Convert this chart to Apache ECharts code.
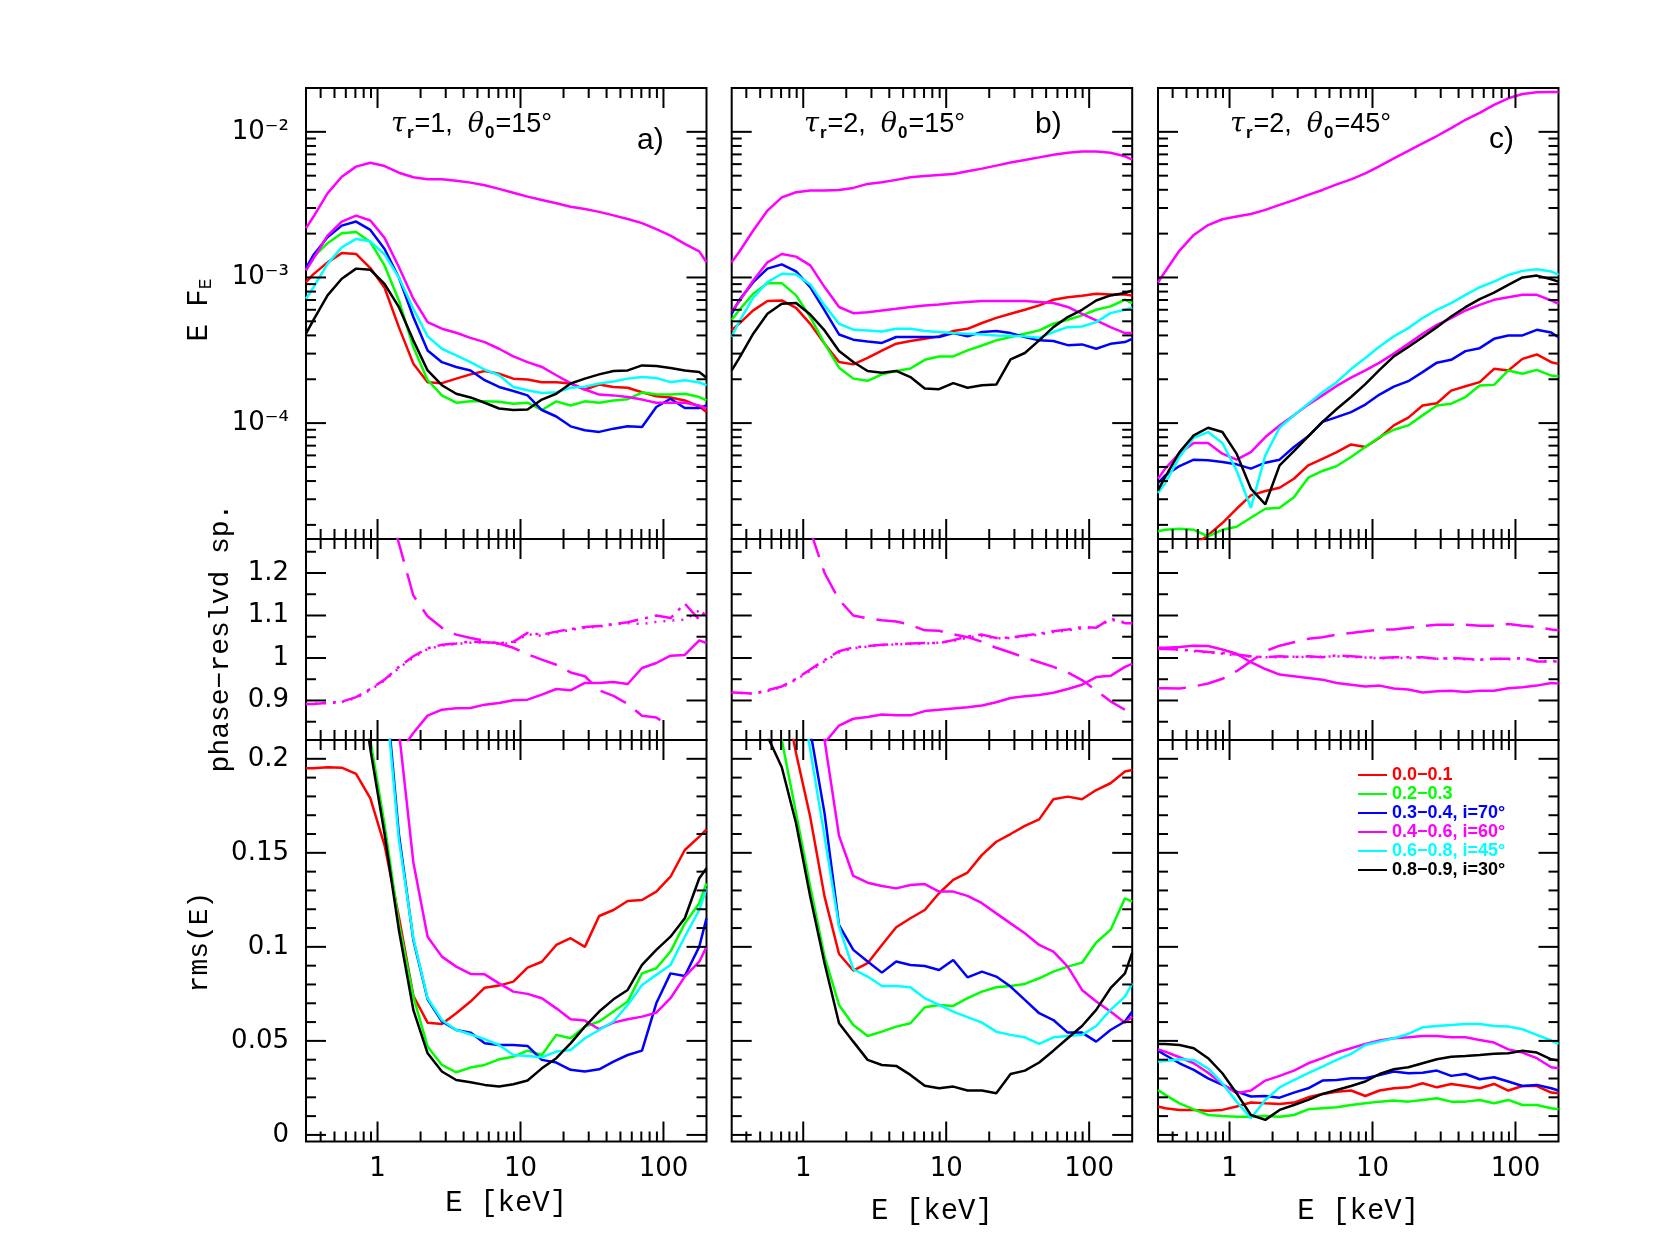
<!DOCTYPE html>
<html><head><meta charset="utf-8">
<script src="https://cdn.jsdelivr.net/npm/echarts@6/dist/echarts.min.js"></script>
<style>html,body{margin:0;padding:0;background:#fff}#c{width:1661px;height:1260px}</style>
</head><body><div id="c"></div>
<script>
// ---------------- data ----------------
// photon energy grid (keV); first and last entries sit at the plot edges
var energy = [0.316, 0.355, 0.447, 0.562, 0.708, 0.891, 1.12, 1.41, 1.78, 2.24, 2.82, 3.55, 4.47, 5.62, 7.08, 8.91, 11.2, 14.1, 17.8, 22.4, 28.2, 35.5, 44.7, 56.2, 70.8, 89.1, 112, 141, 178, 200];

var phaseNames = ['0.0\u22120.1', '0.2\u22120.3', '0.3\u22120.4, i=70\u00b0', '0.4\u22120.6, i=60\u00b0', '0.6\u22120.8, i=45\u00b0', '0.8\u22120.9, i=30\u00b0'];
var phaseColors = ['#ff0000', '#00ff00', '#0000ff', '#ff00ff', '#00ffff', '#000000'];
var panelTitles = ['a)', 'b)', 'c)'];
var panelParams = [['r', '1', '0', '15'], ['r', '2', '0', '15'], ['r', '2', '0', '45']];

// tick values / labels
var xTickLabels = [1, 10, 100];
var xMinorTicks = [0.4, 0.5, 0.6, 0.7, 0.8, 0.9, 2, 3, 4, 5, 6, 7, 8, 9, 20, 30, 40, 50, 60, 70, 80, 90];
var efeTickLabels = [1e-4, 1e-3, 1e-2];
var efeMinorTicks = [2e-5, 3e-5, 4e-5, 5e-5, 6e-5, 7e-5, 8e-5, 9e-5, 2e-4, 3e-4, 4e-4, 5e-4, 6e-4, 7e-4, 8e-4, 9e-4, 2e-3, 3e-3, 4e-3, 5e-3, 6e-3, 7e-3, 8e-3, 9e-3];
var ratioTickLabels = [0.9, 1, 1.1, 1.2];
var ratioMinorTicks = [0.85, 0.95, 1.05, 1.15, 1.25];
var rmsTickLabels = [0, 0.05, 0.1, 0.15, 0.2];
var rmsMinorTicks = [0.01, 0.02, 0.03, 0.04, 0.06, 0.07, 0.08, 0.09, 0.11, 0.12, 0.13, 0.14, 0.16, 0.17, 0.18, 0.19];

// ---- E F_E, panel a ----
var efeA_total = [2.18e-3, 2.6e-3, 3.78e-3, 4.92e-3, 5.77e-3, 6.14e-3, 5.82e-3, 5.24e-3, 4.88e-3, 4.72e-3, 4.72e-3, 4.62e-3, 4.48e-3, 4.30e-3, 4.06e-3, 3.82e-3, 3.59e-3, 3.40e-3, 3.23e-3, 3.06e-3, 2.95e-3, 2.82e-3, 2.67e-3, 2.52e-3, 2.36e-3, 2.15e-3, 1.94e-3, 1.70e-3, 1.51e-3, 1.27e-3];
var efeA_red = [9.3e-4, 1.05e-3, 1.27e-3, 1.47e-3, 1.45e-3, 1.16e-3, 8.5e-4, 4.56e-4, 2.56e-4, 1.91e-4, 1.88e-4, 2.02e-4, 2.16e-4, 2.28e-4, 2.18e-4, 2.02e-4, 1.99e-4, 1.91e-4, 1.91e-4, 1.87e-4, 1.70e-4, 1.84e-4, 1.77e-4, 1.75e-4, 1.63e-4, 1.53e-4, 1.50e-4, 1.43e-4, 1.30e-4, 1.19e-4];
var efeA_green = [1.12e-3, 1.38e-3, 1.72e-3, 2.01e-3, 2.05e-3, 1.75e-3, 1.21e-3, 6.95e-4, 3.33e-4, 1.97e-4, 1.55e-4, 1.38e-4, 1.41e-4, 1.41e-4, 1.40e-4, 1.36e-4, 1.38e-4, 1.23e-4, 1.41e-4, 1.32e-4, 1.41e-4, 1.38e-4, 1.43e-4, 1.46e-4, 1.62e-4, 1.58e-4, 1.57e-4, 1.59e-4, 1.51e-4, 1.43e-4];
var efeA_blue = [1.16e-3, 1.42e-3, 1.89e-3, 2.27e-3, 2.42e-3, 2.12e-3, 1.57e-3, 1.0e-3, 5.35e-4, 3.15e-4, 2.62e-4, 2.43e-4, 2.30e-4, 1.97e-4, 1.77e-4, 1.66e-4, 1.55e-4, 1.23e-4, 1.11e-4, 9.5e-5, 8.93e-5, 8.7e-5, 9.16e-5, 9.5e-5, 9.4e-5, 1.29e-4, 1.47e-4, 1.27e-4, 1.27e-4, 1.32e-4];
var efeA_mag = [1.12e-3, 1.34e-3, 1.94e-3, 2.42e-3, 2.66e-3, 2.46e-3, 1.87e-3, 1.18e-3, 7.14e-4, 4.94e-4, 4.45e-4, 4.17e-4, 3.85e-4, 3.60e-4, 3.24e-4, 2.87e-4, 2.62e-4, 2.43e-4, 2.13e-4, 1.88e-4, 1.70e-4, 1.57e-4, 1.55e-4, 1.51e-4, 1.45e-4, 1.38e-4, 1.38e-4, 1.38e-4, 1.32e-4, 1.26e-4];
var efeA_cyan = [7.14e-4, 8.5e-4, 1.24e-3, 1.61e-3, 1.84e-3, 1.77e-3, 1.44e-3, 1.0e-3, 6.1e-4, 3.94e-4, 3.24e-4, 2.92e-4, 2.62e-4, 2.33e-4, 2.13e-4, 1.77e-4, 1.68e-4, 1.61e-4, 1.63e-4, 1.75e-4, 1.78e-4, 1.87e-4, 1.93e-4, 2.02e-4, 2.07e-4, 2.04e-4, 1.91e-4, 1.97e-4, 1.90e-4, 1.82e-4];
var efeA_black = [4.11e-4, 5.07e-4, 7.53e-4, 9.8e-4, 1.15e-3, 1.13e-3, 9.05e-4, 6.26e-4, 3.70e-4, 2.30e-4, 1.82e-4, 1.59e-4, 1.50e-4, 1.38e-4, 1.26e-4, 1.23e-4, 1.24e-4, 1.45e-4, 1.59e-4, 1.87e-4, 2.02e-4, 2.16e-4, 2.28e-4, 2.30e-4, 2.49e-4, 2.47e-4, 2.39e-4, 2.30e-4, 2.24e-4, 2.05e-4];

// ---- E F_E, panel b ----
var efeB_total = [1.27e-3, 1.49e-3, 2.10e-3, 2.88e-3, 3.55e-3, 3.85e-3, 3.95e-3, 3.95e-3, 3.99e-3, 4.12e-3, 4.39e-3, 4.51e-3, 4.68e-3, 4.88e-3, 4.98e-3, 5.06e-3, 5.14e-3, 5.36e-3, 5.59e-3, 5.86e-3, 6.15e-3, 6.41e-3, 6.68e-3, 6.97e-3, 7.19e-3, 7.34e-3, 7.34e-3, 7.19e-3, 6.79e-3, 6.44e-3];
var efeB_red = [4.34e-4, 4.8e-4, 5.94e-4, 6.89e-4, 6.95e-4, 6.19e-4, 4.8e-4, 3.51e-4, 2.63e-4, 2.53e-4, 2.80e-4, 3.15e-4, 3.51e-4, 3.66e-4, 3.79e-4, 3.94e-4, 4.29e-4, 4.44e-4, 4.87e-4, 5.28e-4, 5.63e-4, 6.0e-4, 6.43e-4, 7.03e-4, 7.32e-4, 7.48e-4, 7.73e-4, 7.65e-4, 7.65e-4, 7.53e-4];
var efeB_green = [5.13e-4, 5.94e-4, 7.73e-4, 9.14e-4, 9.14e-4, 7.53e-4, 5.35e-4, 3.51e-4, 2.40e-4, 2.02e-4, 1.95e-4, 2.16e-4, 2.28e-4, 2.37e-4, 2.72e-4, 2.87e-4, 2.87e-4, 3.16e-4, 3.41e-4, 3.70e-4, 3.90e-4, 4.11e-4, 4.33e-4, 4.81e-4, 5.13e-4, 5.49e-4, 6.0e-4, 6.33e-4, 7.03e-4, 6.67e-4];
var efeB_blue = [5.63e-4, 6.95e-4, 9.29e-4, 1.15e-3, 1.23e-3, 1.10e-3, 8.59e-4, 5.94e-4, 4.06e-4, 3.74e-4, 3.64e-4, 3.55e-4, 3.90e-4, 3.90e-4, 3.90e-4, 3.90e-4, 4.15e-4, 3.94e-4, 4.22e-4, 4.29e-4, 4.15e-4, 3.90e-4, 3.70e-4, 3.66e-4, 3.43e-4, 3.47e-4, 3.24e-4, 3.50e-4, 3.60e-4, 3.79e-4];
var efeB_mag = [5.88e-4, 6.78e-4, 9.53e-4, 1.27e-3, 1.45e-3, 1.39e-3, 1.21e-3, 8.59e-4, 6.27e-4, 5.69e-4, 5.78e-4, 5.94e-4, 6.10e-4, 6.27e-4, 6.43e-4, 6.53e-4, 6.67e-4, 6.78e-4, 6.89e-4, 6.89e-4, 6.89e-4, 6.89e-4, 6.78e-4, 6.67e-4, 6.27e-4, 5.63e-4, 5.07e-4, 4.56e-4, 4.15e-4, 4.15e-4];
var efeB_cyan = [3.90e-4, 4.94e-4, 7.26e-4, 9.29e-4, 1.06e-3, 1.05e-3, 8.96e-4, 6.43e-4, 4.81e-4, 4.38e-4, 4.33e-4, 4.26e-4, 4.44e-4, 4.44e-4, 4.29e-4, 4.22e-4, 4.15e-4, 4.11e-4, 4.06e-4, 4.0e-4, 3.98e-4, 3.94e-4, 3.85e-4, 4.22e-4, 4.56e-4, 4.61e-4, 4.94e-4, 5.69e-4, 6.0e-4, 6.19e-4];
var efeB_black = [2.30e-4, 2.77e-4, 4.11e-4, 5.63e-4, 6.6e-4, 6.67e-4, 5.57e-4, 4.33e-4, 3.13e-4, 2.63e-4, 2.28e-4, 2.22e-4, 2.28e-4, 2.07e-4, 1.73e-4, 1.71e-4, 1.88e-4, 1.75e-4, 1.82e-4, 1.84e-4, 2.74e-4, 3.03e-4, 3.70e-4, 4.56e-4, 5.35e-4, 6.0e-4, 6.95e-4, 7.53e-4, 7.81e-4, 8.15e-4];

// ---- E F_E, panel c ----
var efeC_total = [9.23e-4, 1.10e-3, 1.53e-3, 1.96e-3, 2.29e-3, 2.51e-3, 2.62e-3, 2.73e-3, 2.91e-3, 3.15e-3, 3.40e-3, 3.69e-3, 3.99e-3, 4.36e-3, 4.72e-3, 5.19e-3, 5.82e-3, 6.58e-3, 7.41e-3, 8.34e-3, 9.36e-3, 1.06e-2, 1.21e-2, 1.35e-2, 1.53e-2, 1.70e-2, 1.82e-2, 1.87e-2, 1.88e-2, 1.88e-2];
var efeC_red = [0.95e-5, 1.0e-5, 1.2e-5, 1.45e-5, 1.7e-5, 2.06e-5, 2.58e-5, 3.19e-5, 3.42e-5, 3.60e-5, 4.15e-5, 5.12e-5, 5.69e-5, 6.32e-5, 7.14e-5, 6.85e-5, 7.93e-5, 9.64e-5, 1.09e-4, 1.32e-4, 1.37e-4, 1.67e-4, 1.79e-4, 1.91e-4, 2.36e-4, 2.30e-4, 2.76e-4, 2.96e-4, 2.62e-4, 2.55e-4];
var efeC_green = [1.81e-5, 1.85e-5, 1.88e-5, 1.85e-5, 1.67e-5, 1.85e-5, 1.94e-5, 2.24e-5, 2.58e-5, 2.62e-5, 3.10e-5, 4.22e-5, 4.69e-5, 5.07e-5, 5.85e-5, 6.85e-5, 8.02e-5, 9.0e-5, 9.64e-5, 1.13e-4, 1.32e-4, 1.36e-4, 1.51e-4, 1.81e-4, 1.83e-4, 2.30e-4, 2.18e-4, 2.32e-4, 2.12e-4, 2.09e-4];
var efeC_blue = [3.87e-5, 4.37e-5, 5.07e-5, 5.61e-5, 5.55e-5, 5.41e-5, 5.21e-5, 4.87e-5, 5.35e-5, 5.61e-5, 6.85e-5, 8.11e-5, 1.02e-4, 1.10e-4, 1.19e-4, 1.34e-4, 1.57e-4, 1.78e-4, 1.94e-4, 2.24e-4, 2.60e-4, 2.72e-4, 3.12e-4, 3.27e-4, 3.79e-4, 3.99e-4, 4.0e-4, 4.37e-4, 4.19e-4, 3.89e-4];
var efeC_mag = [4.15e-5, 4.87e-5, 6.22e-5, 7.3e-5, 7.3e-5, 6.17e-5, 5.61e-5, 6.32e-5, 8.02e-5, 9.64e-5, 1.13e-4, 1.34e-4, 1.55e-4, 1.8e-4, 2.05e-4, 2.3e-4, 2.6e-4, 3.0e-4, 3.5e-4, 4.1e-4, 4.73e-4, 5.26e-4, 5.93e-4, 6.49e-4, 7.02e-4, 7.32e-4, 7.6e-4, 7.6e-4, 6.95e-4, 6.6e-4];
var efeC_cyan = [3.31e-5, 3.87e-5, 5.85e-5, 7.93e-5, 8.68e-5, 7.3e-5, 4.73e-5, 2.62e-5, 6.0e-5, 9.29e-5, 1.13e-4, 1.36e-4, 1.63e-4, 1.91e-4, 2.35e-4, 2.8e-4, 3.36e-4, 3.94e-4, 4.49e-4, 5.26e-4, 6.0e-4, 6.67e-4, 7.6e-4, 8.57e-4, 9.37e-4, 1.04e-3, 1.11e-3, 1.14e-3, 1.10e-3, 1.04e-3];
var efeC_black = [3.45e-5, 4.27e-5, 6.32e-5, 8.23e-5, 9.29e-5, 8.68e-5, 6.17e-5, 3.55e-5, 2.77e-5, 5.13e-5, 6.43e-5, 8.11e-5, 1.02e-4, 1.25e-4, 1.51e-4, 1.85e-4, 2.32e-4, 2.87e-4, 3.33e-4, 3.89e-4, 4.56e-4, 5.39e-4, 6.25e-4, 7.1e-4, 7.87e-4, 8.89e-4, 1.0e-3, 1.03e-3, 9.73e-4, 9.37e-4];

// ---- phase-resolved spectra ratios (magenta; solid, dashed, dash-dot, dotted) ----
var ratioA_solid = [null, null, null, null, null, null, 0.72, 0.775, 0.8235, 0.8643, 0.8784, 0.8816, 0.8824, 0.8902, 0.8941, 0.9004, 0.902, 0.9137, 0.9271, 0.9239, 0.9412, 0.9412, 0.9435, 0.9388, 0.9765, 0.9882, 1.0055, 1.0071, 1.0416, 1.0353];
var ratioA_dashed = [null, null, null, null, null, null, 1.38, 1.27, 1.147, 1.098, 1.071, 1.055, 1.047, 1.041, 1.034, 1.024, 1.009, 0.996, 0.984, 0.966, 0.957, 0.924, 0.911, 0.892, 0.864, 0.860, 0.838, null, null, null];
var ratioA_dashdot = [0.892, 0.892, 0.894, 0.897, 0.908, 0.927, 0.949, 0.979, 1.004, 1.023, 1.031, 1.034, 1.039, 1.037, 1.035, 1.038, 1.059, 1.055, 1.062, 1.068, 1.073, 1.075, 1.080, 1.084, 1.092, 1.100, 1.094, 1.128, 1.090, 1.115];
var ratioA_dotted = [0.892, 0.892, 0.894, 0.896, 0.906, 0.925, 0.947, 0.976, 1.001, 1.021, 1.029, 1.033, 1.036, 1.037, 1.033, 1.035, 1.056, 1.052, 1.060, 1.066, 1.071, 1.074, 1.079, 1.082, 1.080, 1.085, 1.088, 1.090, 1.112, 1.100];
var ratioB_solid = [null, null, null, null, null, null, 0.70, 0.80, 0.841, 0.857, 0.861, 0.867, 0.865, 0.865, 0.875, 0.878, 0.881, 0.884, 0.888, 0.896, 0.906, 0.910, 0.913, 0.918, 0.927, 0.937, 0.955, 0.958, 0.979, 0.986];
var ratioB_dashed = [null, null, null, null, null, null, 1.30, 1.20, 1.137, 1.100, 1.093, 1.089, 1.086, 1.078, 1.065, 1.064, 1.056, 1.049, 1.038, 1.024, 1.013, 1.001, 0.990, 0.979, 0.966, 0.948, 0.924, 0.898, 0.878, 0.869];
var ratioB_dashdot = [0.919, 0.918, 0.916, 0.924, 0.933, 0.951, 0.973, 0.995, 1.016, 1.025, 1.028, 1.031, 1.033, 1.034, 1.035, 1.035, 1.042, 1.051, 1.055, 1.047, 1.048, 1.053, 1.057, 1.063, 1.067, 1.073, 1.071, 1.093, 1.082, 1.082];
var ratioB_dotted = [0.919, 0.918, 0.916, 0.922, 0.931, 0.949, 0.970, 0.992, 1.013, 1.023, 1.027, 1.030, 1.032, 1.033, 1.034, 1.036, 1.040, 1.048, 1.052, 1.046, 1.047, 1.051, 1.055, 1.061, 1.065, 1.070, 1.072, 1.090, 1.084, 1.082];
var ratioC_solid = [1.024, 1.024, 1.026, 1.029, 1.028, 1.020, 1.010, 0.990, 0.974, 0.961, 0.957, 0.953, 0.949, 0.941, 0.937, 0.933, 0.935, 0.928, 0.926, 0.919, 0.922, 0.923, 0.920, 0.923, 0.923, 0.929, 0.931, 0.935, 0.941, 0.940];
var ratioC_dashed = [0.929, 0.929, 0.928, 0.933, 0.940, 0.951, 0.969, 0.992, 1.016, 1.029, 1.037, 1.045, 1.049, 1.055, 1.059, 1.063, 1.067, 1.067, 1.071, 1.075, 1.078, 1.078, 1.078, 1.076, 1.076, 1.080, 1.076, 1.073, 1.067, 1.065];
var ratioC_dashdot = [1.021, 1.021, 1.020, 1.017, 1.014, 1.012, 1.008, 1.004, 1.002, 1.004, 1.002, 1.004, 1.002, 1.006, 1.004, 1.002, 1.000, 1.002, 1.002, 1.002, 0.998, 1.000, 0.998, 0.996, 0.998, 0.998, 1.000, 0.992, 0.992, 0.992];
var ratioC_dotted = [1.023, 1.022, 1.020, 1.016, 1.013, 1.010, 1.006, 1.003, 1.002, 1.002, 1.003, 1.002, 1.003, 1.004, 1.002, 1.001, 0.999, 1.000, 1.000, 1.001, 0.998, 0.999, 0.997, 0.996, 0.998, 0.997, 0.999, 0.993, 0.993, 0.993];

// ---- rms(E) ----
var rmsA_red = [0.195, 0.195, 0.1955, 0.1953, 0.192, 0.179, 0.154, 0.116, 0.074, 0.0597, 0.059, 0.0647, 0.0709, 0.0783, 0.0794, 0.0815, 0.089, 0.0921, 0.101, 0.1046, 0.100, 0.1164, 0.1196, 0.1244, 0.1249, 0.1294, 0.1373, 0.1515, 0.1586, 0.1625];
var rmsA_green = [null, null, null, null, 0.27, 0.21, 0.165, 0.1125, 0.0735, 0.047, 0.0372, 0.0333, 0.0358, 0.0372, 0.0402, 0.0416, 0.0448, 0.0425, 0.0532, 0.0514, 0.0576, 0.0603, 0.0656, 0.0709, 0.0859, 0.0886, 0.0975, 0.1125, 0.1232, 0.1338];
var rmsA_blue = [null, null, null, null, null, null, 0.245, 0.16, 0.1037, 0.0721, 0.0603, 0.0558, 0.0544, 0.0487, 0.0478, 0.0478, 0.0473, 0.0399, 0.0385, 0.0346, 0.0337, 0.0349, 0.039, 0.0425, 0.0448, 0.070, 0.0859, 0.0845, 0.1001, 0.1152];
var rmsA_mag = [null, null, null, null, null, null, 0.30, 0.215, 0.145, 0.1054, 0.0948, 0.0895, 0.0856, 0.0854, 0.0806, 0.0762, 0.075, 0.0727, 0.0673, 0.0615, 0.0608, 0.0562, 0.0597, 0.0615, 0.0629, 0.065, 0.0727, 0.0842, 0.0921, 0.1001];
var rmsA_cyan = [null, null, null, null, null, null, 0.24, 0.157, 0.1045, 0.0727, 0.0611, 0.0558, 0.0535, 0.0509, 0.0478, 0.0425, 0.042, 0.0413, 0.0443, 0.0452, 0.0514, 0.0558, 0.0603, 0.0691, 0.0797, 0.0851, 0.0904, 0.1054, 0.1196, 0.1311];
var rmsA_black = [null, null, null, null, 0.26, 0.205, 0.16, 0.109, 0.0665, 0.0434, 0.0337, 0.0292, 0.028, 0.0266, 0.0257, 0.0269, 0.0289, 0.0354, 0.0408, 0.0487, 0.0576, 0.0656, 0.0721, 0.0771, 0.0904, 0.0984, 0.1054, 0.1152, 0.1365, 0.1418];

var rmsB_red = [null, null, null, 0.28, 0.242, 0.203, 0.169, 0.1267, 0.0962, 0.0874, 0.0913, 0.101, 0.1104, 0.1152, 0.1196, 0.1285, 0.1356, 0.1395, 0.1489, 0.1559, 0.160, 0.1643, 0.1678, 0.1785, 0.1799, 0.1785, 0.1834, 0.187, 0.1932, 0.194];
var rmsB_green = [null, null, null, 0.25, 0.21, 0.171, 0.132, 0.0948, 0.0691, 0.0585, 0.0526, 0.0549, 0.0576, 0.0594, 0.0679, 0.0691, 0.0686, 0.0727, 0.0762, 0.0785, 0.0792, 0.0803, 0.0833, 0.0868, 0.0895, 0.0916, 0.1023, 0.109, 0.1258, 0.124];
var rmsB_blue = [null, null, null, null, null, 0.26, 0.215, 0.171, 0.1116, 0.0984, 0.0922, 0.0863, 0.0922, 0.0904, 0.0898, 0.0877, 0.093, 0.0838, 0.0868, 0.0842, 0.0789, 0.0718, 0.0647, 0.0611, 0.0544, 0.0544, 0.0496, 0.0558, 0.0603, 0.0656];
var rmsB_mag = [null, null, null, null, null, null, 0.28, 0.21, 0.159, 0.1377, 0.1341, 0.1324, 0.1311, 0.1329, 0.1334, 0.1294, 0.1294, 0.1271, 0.1232, 0.1178, 0.1125, 0.1072, 0.101, 0.0975, 0.0895, 0.0771, 0.0709, 0.0656, 0.0597, 0.0629];
var rmsB_cyan = [null, null, null, null, null, 0.25, 0.2047, 0.1586, 0.1108, 0.0881, 0.0842, 0.0792, 0.0792, 0.0785, 0.0727, 0.0691, 0.0656, 0.0626, 0.0597, 0.0549, 0.0532, 0.0519, 0.0484, 0.0519, 0.0526, 0.0532, 0.0579, 0.0665, 0.0735, 0.0806];
var rmsB_black = [null, null, 0.25, 0.212, 0.1955, 0.1657, 0.1267, 0.0913, 0.0594, 0.0496, 0.0399, 0.0372, 0.0367, 0.0319, 0.0261, 0.0248, 0.0257, 0.0236, 0.0236, 0.0222, 0.0324, 0.0342, 0.0385, 0.0448, 0.0514, 0.0579, 0.0665, 0.078, 0.0859, 0.0969];

var rmsC_red = [0.0151, 0.0142, 0.0133, 0.0133, 0.0128, 0.0133, 0.0151, 0.0172, 0.0168, 0.0165, 0.0172, 0.020, 0.0218, 0.023, 0.0236, 0.0207, 0.0236, 0.0248, 0.0253, 0.0275, 0.0253, 0.0271, 0.026, 0.0248, 0.0271, 0.0236, 0.026, 0.026, 0.0225, 0.0222];
var rmsC_green = [0.0239, 0.0213, 0.0168, 0.0136, 0.0106, 0.0101, 0.0097, 0.0097, 0.0101, 0.0097, 0.0106, 0.0136, 0.0142, 0.0147, 0.0159, 0.0168, 0.0177, 0.0183, 0.0177, 0.0186, 0.0195, 0.0177, 0.0177, 0.0186, 0.0168, 0.0186, 0.0159, 0.0159, 0.0142, 0.0136];
var rmsC_blue = [0.0448, 0.0425, 0.0381, 0.0346, 0.0301, 0.0266, 0.023, 0.0204, 0.0207, 0.0198, 0.0225, 0.0248, 0.0289, 0.0292, 0.0301, 0.0301, 0.0319, 0.0337, 0.0328, 0.0331, 0.0342, 0.0314, 0.0324, 0.0296, 0.0307, 0.0284, 0.026, 0.0266, 0.0248, 0.0236];
var rmsC_mag = [0.0455, 0.0443, 0.0413, 0.0381, 0.0331, 0.0271, 0.0222, 0.0236, 0.0289, 0.0314, 0.0342, 0.0381, 0.0408, 0.0438, 0.0461, 0.0484, 0.0502, 0.0514, 0.0519, 0.0526, 0.0526, 0.0519, 0.0519, 0.0505, 0.0491, 0.0455, 0.0438, 0.0408, 0.036, 0.0354];
var rmsC_cyan = [0.039, 0.0393, 0.0402, 0.0399, 0.0354, 0.0275, 0.0177, 0.0089, 0.0186, 0.0253, 0.0292, 0.0328, 0.0363, 0.0399, 0.0431, 0.0478, 0.0496, 0.0514, 0.0537, 0.0572, 0.0579, 0.0585, 0.059, 0.059, 0.0579, 0.0576, 0.0562, 0.0532, 0.0502, 0.0484];
var rmsC_black = [0.0484, 0.0484, 0.0478, 0.0461, 0.0408, 0.0328, 0.0222, 0.0106, 0.008, 0.0133, 0.0159, 0.0186, 0.0218, 0.0239, 0.026, 0.0284, 0.0324, 0.0349, 0.036, 0.0381, 0.0402, 0.0416, 0.042, 0.0425, 0.0431, 0.0434, 0.0448, 0.0438, 0.0402, 0.0395];

// ---------------- layout ----------------
var colLeft = [306, 731.7, 1158];
var colWidth = 400.5;
var rowTop = [88, 539, 740];
var rowHeight = [451, 201, 401.5];
var X_MIN = 0.316, X_MAX = 200;
var yRange = [[1.6e-5, 0.02], [0.807, 1.28], [-0.0035, 0.21]];
var TICK_MAJOR = 20, TICK_MINOR = 10;
var NUM_FONT = 'DejaVu Sans';
var TITLE_FONT = 'Liberation Mono';

function pairs(vals) {
  var out = [];
  for (var i = 0; i < energy.length; i++) if (vals[i] !== null && vals[i] !== undefined) out.push([energy[i], vals[i]]);
  return out;
}
var SUP = {'-': '\u207b', '0': '\u2070', '1': '\u00b9', '2': '\u00b2', '3': '\u00b3', '4': '\u2074', '5': '\u2075', '6': '\u2076', '7': '\u2077', '8': '\u2078', '9': '\u2079'};
function matchTick(v, list) {
  for (var i = 0; i < list.length; i++) if (Math.abs(v - list[i]) < 1e-9 * Math.max(1, Math.abs(list[i])) + 1e-12) return i;
  return -1;
}
function fmtX(v) { var i = matchTick(v, xTickLabels); return i < 0 ? '' : String(xTickLabels[i]); }
function fmtEfe(v) {
  for (var i = 0; i < efeTickLabels.length; i++) {
    if (Math.abs(v / efeTickLabels[i] - 1) < 1e-6) {
      var e = String(Math.round(Math.log10(efeTickLabels[i])));
      return '10' + e.split('').map(function (c) { return SUP[c]; }).join('');
    }
  }
  return '';
}
function fmtRatio(v) { var i = matchTick(v, ratioTickLabels); return i < 0 ? '' : String(ratioTickLabels[i]); }
function fmtRms(v) { var i = matchTick(v, rmsTickLabels); return i < 0 ? '' : String(rmsTickLabels[i]); }

var grids = [], xAxes = [], yAxes = [], series = [];
var yMajorLists = [efeTickLabels, ratioTickLabels, rmsTickLabels];
var yMinorLists = [efeMinorTicks, ratioMinorTicks, rmsMinorTicks];
var yFormatters = [fmtEfe, fmtRatio, fmtRms];

function renderTick(params, api) {
  var cs = params.coordSys;
  var kind = api.value(2);
  var p = api.coord([api.value(0), api.value(1)]);
  var len = (kind === 0 || kind === 2) ? TICK_MAJOR : TICK_MINOR;
  var st = {stroke: '#000', lineWidth: 2};
  var kids;
  if (kind < 2) {
    kids = [
      {type: 'line', shape: {x1: p[0], y1: cs.y + cs.height, x2: p[0], y2: cs.y + cs.height - len}, style: st},
      {type: 'line', shape: {x1: p[0], y1: cs.y, x2: p[0], y2: cs.y + len}, style: st}];
  } else {
    kids = [
      {type: 'line', shape: {x1: cs.x, y1: p[1], x2: cs.x + len, y2: p[1]}, style: st},
      {type: 'line', shape: {x1: cs.x + cs.width, y1: p[1], x2: cs.x + cs.width - len, y2: p[1]}, style: st}];
  }
  return {type: 'group', children: kids};
}

for (var r = 0; r < 3; r++) {
  for (var c = 0; c < 3; c++) {
    var g = r * 3 + c;
    grids.push({left: colLeft[c], top: rowTop[r], width: colWidth, height: rowHeight[r], show: true,
      borderColor: '#000', borderWidth: 2, backgroundColor: 'rgba(0,0,0,0)', containLabel: false, outerBoundsMode: 'none'});
    xAxes.push({gridIndex: g, type: 'log', logBase: 10, min: X_MIN, max: X_MAX,
      axisLine: {show: false}, axisTick: {show: false}, splitLine: {show: false}, minorTick: {show: false},
      axisLabel: {show: r === 2, formatter: fmtX, margin: 15, fontFamily: NUM_FONT, fontSize: 26, color: '#000'},
      name: r === 2 ? 'E [keV]' : '', nameLocation: 'middle', nameGap: c === 0 ? 47 : 55, nameMoveOverlap: false,
      nameTextStyle: {fontFamily: TITLE_FONT, fontSize: 29, color: '#000'}});
    yAxes.push({gridIndex: g, type: r === 0 ? 'log' : 'value', logBase: 10, min: yRange[r][0], max: yRange[r][1],
      axisLine: {show: false}, axisTick: {show: false}, splitLine: {show: false}, minorTick: {show: false},
      axisLabel: {show: c === 0, formatter: yFormatters[r], margin: 17, fontFamily: NUM_FONT, fontSize: 26, color: '#000'}});
    // ticks on all four sides, placed through the axes' own scales
    var td = [];
    xTickLabels.forEach(function (v) { td.push([v, yRange[r][0], 0]); });
    xMinorTicks.forEach(function (v) { td.push([v, yRange[r][0], 1]); });
    yMajorLists[r].forEach(function (v) { td.push([X_MIN, v, 2]); });
    yMinorLists[r].forEach(function (v) { td.push([X_MIN, v, 3]); });
    series.push({type: 'custom', name: 'ticks' + g, xAxisIndex: g, yAxisIndex: g, data: td, silent: true,
      animation: false, clip: false, z: 5, renderItem: renderTick});
  }
}

function addLine(name, g, vals, color, dash) {
  series.push({type: 'line', name: name, xAxisIndex: g, yAxisIndex: g, data: pairs(vals),
    showSymbol: false, symbol: 'none', silent: true, animation: false, clip: true, z: 2,
    lineStyle: {color: color, width: 2.5, type: dash || 'solid'}, itemStyle: {color: color}});
}

var efePanels = [
  [efeA_red, efeA_green, efeA_blue, efeA_mag, efeA_cyan, efeA_black, efeA_total],
  [efeB_red, efeB_green, efeB_blue, efeB_mag, efeB_cyan, efeB_black, efeB_total],
  [efeC_red, efeC_green, efeC_blue, efeC_mag, efeC_cyan, efeC_black, efeC_total]];
var rmsPanels = [
  [rmsA_red, rmsA_green, rmsA_blue, rmsA_mag, rmsA_cyan, rmsA_black],
  [rmsB_red, rmsB_green, rmsB_blue, rmsB_mag, rmsB_cyan, rmsB_black],
  [rmsC_red, rmsC_green, rmsC_blue, rmsC_mag, rmsC_cyan, rmsC_black]];
var ratioPanels = [
  [ratioA_solid, ratioA_dashed, ratioA_dashdot, ratioA_dotted],
  [ratioB_solid, ratioB_dashed, ratioB_dashdot, ratioB_dotted],
  [ratioC_solid, ratioC_dashed, ratioC_dashdot, ratioC_dotted]];
var ratioDash = ['solid', [28, 12], [20, 7, 3, 7], [2, 7]];
var ratioNames = ['ratio solid', 'ratio dashed', 'ratio dash-dot', 'ratio dotted'];

for (var c2 = 0; c2 < 3; c2++) {
  for (var k = 0; k < 6; k++) addLine(phaseNames[k], c2, efePanels[c2][k], phaseColors[k]);
  addLine('total ' + panelTitles[c2], c2, efePanels[c2][6], '#ff00ff');
  for (var m = 0; m < 4; m++) addLine(ratioNames[m] + ' ' + panelTitles[c2], 3 + c2, ratioPanels[c2][m], '#ff00ff', ratioDash[m]);
  for (var k2 = 0; k2 < 6; k2++) addLine(phaseNames[k2], 6 + c2, rmsPanels[c2][k2], phaseColors[k2]);
}

// ---------------- text ----------------
var graphics = [];
var annX = [391, 804, 1230], titleX = [637, 1035, 1489], titleY = [141, 125, 140];
for (var p = 0; p < 3; p++) {
  var pp = panelParams[p];
  graphics.push({type: 'text', x: annX[p], y: 125, z: 10, style: {
    text: '{g|\u03c4}{s|' + pp[0] + '}{n|=' + pp[1] + ',  }{g|\u03b8}{s|' + pp[2] + '}{n|=' + pp[3] + '\u00b0}',
    rich: {g: {fontFamily: 'DejaVu Serif', fontStyle: 'italic', fontSize: 27, fill: '#000'},
           n: {fontFamily: 'Liberation Sans', fontSize: 27, fill: '#000'},
           s: {fontFamily: 'Liberation Sans', fontSize: 17, fontWeight: 'bold', fill: '#000', padding: [17, 1, 0, 1]}},
    verticalAlign: 'middle', textVerticalAlign: 'middle', fill: '#000'}});
  graphics.push({type: 'text', x: titleX[p], y: titleY[p], z: 10, style: {
    text: panelTitles[p], font: '30px "Liberation Sans"', fill: '#000', verticalAlign: 'middle', textVerticalAlign: 'middle'}});
}
graphics.push({type: 'text', x: 199, y: 310, rotation: Math.PI / 2, z: 10, style: {
  text: '{n|E F}{s|E}', rich: {n: {fontFamily: TITLE_FONT, fontSize: 29, fill: '#000'},
  s: {fontFamily: TITLE_FONT, fontSize: 18, fill: '#000', padding: [14, 0, 0, 0]}},
  align: 'center', textAlign: 'center', verticalAlign: 'middle', textVerticalAlign: 'middle', fill: '#000'}});
graphics.push({type: 'text', x: 221, y: 638, rotation: Math.PI / 2, z: 10, style: {
  text: 'phase\u2212reslvd sp.', font: '28px "Liberation Mono"', fill: '#000',
  align: 'center', textAlign: 'center', verticalAlign: 'middle', textVerticalAlign: 'middle'}});
graphics.push({type: 'text', x: 200, y: 942, rotation: Math.PI / 2, z: 10, style: {
  text: 'rms(E)', font: '28px "Liberation Mono"', fill: '#000',
  align: 'center', textAlign: 'center', verticalAlign: 'middle', textVerticalAlign: 'middle'}});

var chart = echarts.init(document.getElementById('c'), null, {renderer: 'canvas', width: 1661, height: 1260});
chart.setOption({
  backgroundColor: '#fff',
  animation: false,
  grid: grids, xAxis: xAxes, yAxis: yAxes, series: series,
  legend: {orient: 'vertical', left: 1358, top: 766, itemWidth: 29, itemHeight: 2, itemGap: 1, icon: 'rect',
    selectedMode: false, padding: 0,
    textStyle: {fontFamily: 'Liberation Sans', fontSize: 18, fontWeight: 'bold'},
    data: phaseNames.map(function (n, i) { return {name: n, textStyle: {color: phaseColors[i]}}; })},
  graphic: graphics
});
</script>
</body></html>
